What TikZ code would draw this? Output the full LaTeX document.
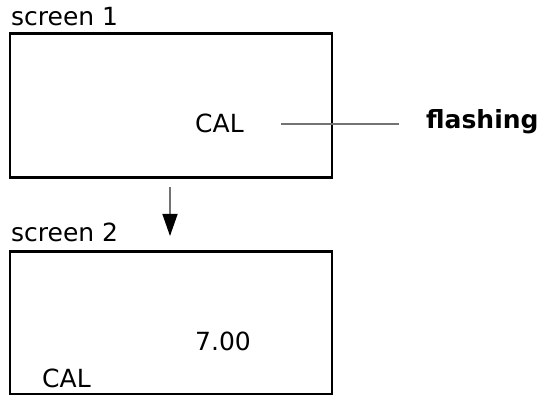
\documentclass[tikz,border=0pt]{standalone}
\usepackage{fontspec}
\setmainfont{DejaVu Sans}
\usetikzlibrary{arrows.meta}
\begin{document}
\begin{tikzpicture}[x=1pt,y=-1pt,
  screenbox/.style={draw=black,line width=2.8pt,rectangle,inner sep=0,minimum width=322pt,anchor=north west},
  lbl/.style={anchor=base west,inner sep=0,font=\fontsize{25}{30}\selectfont},
  pointer/.style={draw=black!55,line width=1.4pt},
  flow/.style={draw=black!55,line width=1.4pt,-{Triangle[length=22pt,width=15pt,color=black]}}]
\useasboundingbox (0,0) rectangle (546,395);
\node[screenbox,minimum height=144pt] (s1) at (8.5,32.5) {};
\node[screenbox,minimum height=142.5pt] (s2) at (8.5,250) {};
\node[lbl] (t1) at (11,25.5) {screen 1};
\node[lbl] (t2) at (11,242) {screen 2};
\node[lbl] (cal1) at (195,133) {CAL};
\node[lbl,font=\fontsize{25}{30}\selectfont\bfseries] (fl) at (426,129) {flashing};
\node[lbl] (v) at (195,350) {7.00};
\node[lbl] (cal2) at (42,387) {CAL};
\coordinate (p1) at (281,124);
\coordinate (p2) at (399,124);
\draw[pointer] (p1) -- (p2);
\coordinate (a1) at (170,187);
\coordinate (a2) at (170,236);
\draw[flow] (a1) -- (a2);
\end{tikzpicture}
\end{document}
